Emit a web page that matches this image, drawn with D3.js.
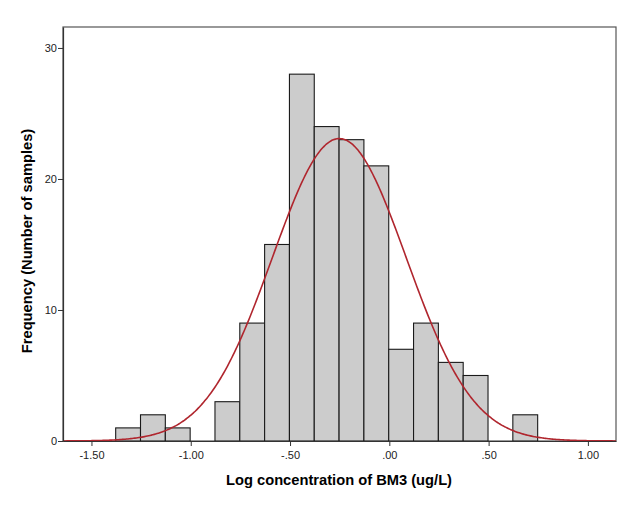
<!DOCTYPE html>
<html>
<head>
<meta charset="utf-8">
<script src="https://cdn.jsdelivr.net/npm/d3@7"></script>
<style>
  html, body { margin: 0; padding: 0; background: #fff; }
  svg { display: block; }
  text { font-family: "Liberation Sans", Arial, sans-serif; }
</style>
</head>
<body>
<svg id="chart" width="631" height="506"></svg>
<script>
// ---- data ----
const binStarts = [-1.378, -1.253, -1.128, -1.003, -0.878, -0.753, -0.628, -0.503, -0.378, -0.253, -0.128, -0.003, 0.122, 0.247, 0.372, 0.497, 0.622];
const binWidth = 0.125;
const counts = [1, 2, 1, 0, 3, 9, 15, 28, 24, 23, 21, 7, 9, 6, 5, 0, 2];
const xTicks = [-1.5, -1.0, -0.5, 0.0, 0.5, 1.0];
const xTickLabels = ["-1.50", "-1.00", "-.50", ".00", ".50", "1.00"];
const yTicks = [0, 10, 20, 30];
const normalMean = -0.252;
const normalSd = 0.337;
const xTitle = "Log concentration of BM3 (ug/L)";
const yTitle = "Frequency (Number of samples)";

// ---- layout ----
const mLeft = 63, mRight = 616, mTop = 27, mBottom = 441;
const svg = d3.select("#chart");

const x = d3.scaleLinear().domain([-1.6433, 1.1415]).range([mLeft, mRight]);
const y = d3.scaleLinear().domain([0, 31.6]).range([mBottom, mTop]);

// frame
svg.append("rect")
  .attr("x", mLeft).attr("y", mTop)
  .attr("width", mRight - mLeft).attr("height", mBottom - mTop)
  .attr("fill", "#fff").attr("stroke", "#555").attr("stroke-width", 1.2);

// bars
const total = d3.sum(counts);
svg.append("g").selectAll("rect")
  .data(binStarts.map((s, i) => ({ s, c: counts[i] })).filter(d => d.c > 0))
  .join("rect")
  .attr("x", d => x(d.s))
  .attr("y", d => y(d.c))
  .attr("width", d => x(d.s + binWidth) - x(d.s))
  .attr("height", d => y(0) - y(d.c))
  .attr("fill", "#cccccc")
  .attr("stroke", "#1a1a1a")
  .attr("stroke-width", 1.1);

// normal curve
const [d0, d1] = x.domain();
const pts = d3.range(0, 401).map(i => d0 + (d1 - d0) * i / 400);
const dens = v => total * binWidth / (normalSd * Math.sqrt(2 * Math.PI)) *
  Math.exp(-0.5 * Math.pow((v - normalMean) / normalSd, 2));
svg.append("path")
  .datum(pts)
  .attr("fill", "none")
  .attr("stroke", "#b0262e")
  .attr("stroke-width", 1.6)
  .attr("d", d3.line().x(v => x(v)).y(v => y(dens(v))).curve(d3.curveBasis));

// axes
const xAxis = d3.axisBottom(x).tickValues(xTicks)
  .tickFormat((d, i) => xTickLabels[i]).tickSize(5).tickSizeOuter(0);
const gx = svg.append("g").attr("transform", `translate(0,${mBottom})`).call(xAxis);
gx.select(".domain").attr("stroke", "#333").attr("stroke-width", 1.2);
gx.selectAll(".tick line").attr("stroke", "#333");
gx.selectAll(".tick text").attr("font-size", 11).attr("fill", "#222")
  .attr("font-family", "Liberation Sans, Arial, sans-serif").attr("dy", "0.95em");

const yAxis = d3.axisLeft(y).tickValues(yTicks).tickSize(5).tickSizeOuter(0);
const gy = svg.append("g").attr("transform", `translate(${mLeft},0)`).call(yAxis);
gy.select(".domain").attr("stroke", "#333").attr("stroke-width", 1.2);
gy.selectAll(".tick line").attr("stroke", "#333");
gy.selectAll(".tick text").attr("font-size", 11).attr("fill", "#222")
  .attr("font-family", "Liberation Sans, Arial, sans-serif").attr("x", -6);

// titles
svg.append("text")
  .attr("x", 339).attr("y", 485)
  .attr("text-anchor", "middle")
  .attr("font-size", 14.7).attr("font-weight", "bold").attr("fill", "#000")
  .text(xTitle);
svg.append("text")
  .attr("transform", "translate(32,241) rotate(-90)")
  .attr("text-anchor", "middle")
  .attr("font-size", 14.7).attr("font-weight", "bold").attr("fill", "#000")
  .text(yTitle);
</script>
</body>
</html>
